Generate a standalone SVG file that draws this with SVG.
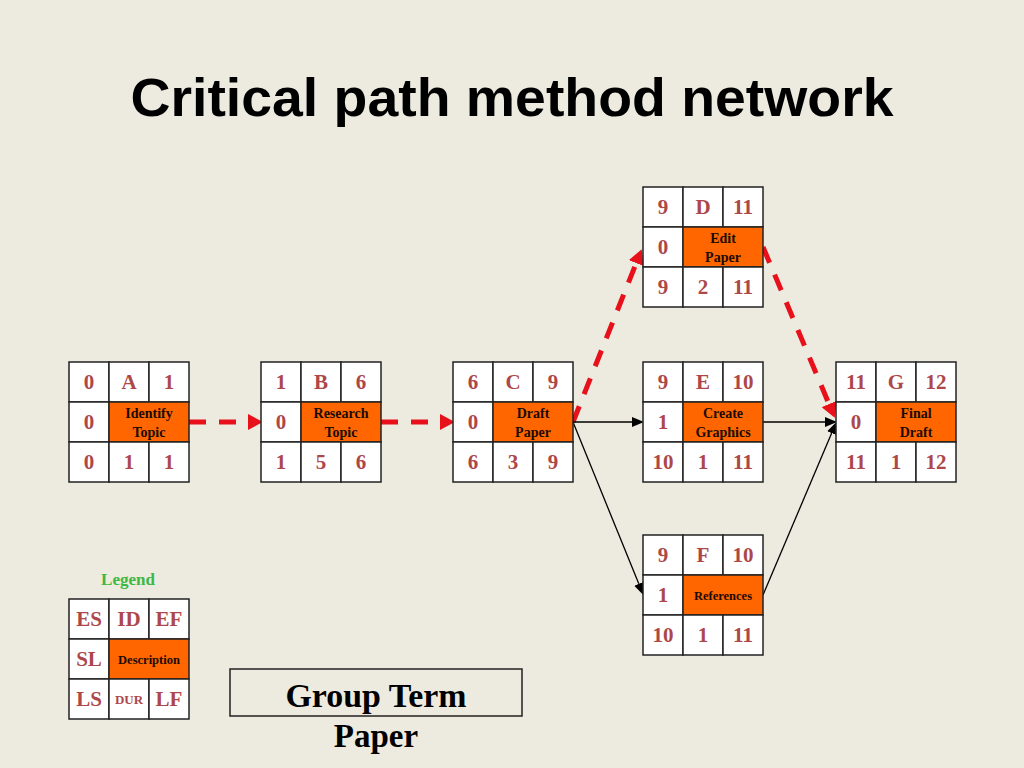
<svg xmlns="http://www.w3.org/2000/svg" width="1024" height="768" viewBox="0 0 1024 768">
<style>
.c{fill:#ffffff;stroke:#222222;stroke-width:1.5}
.o{fill:#ff6600;stroke:#222222;stroke-width:1.5}
.n{font-family:"Liberation Serif",serif;font-weight:bold;font-size:21px;fill:#ad474a;text-anchor:middle}
.d{font-family:"Liberation Serif",serif;font-weight:bold;font-size:14px;fill:#1a0a00;text-anchor:middle}
.s{font-size:12.5px}
.u{font-size:13px}
.red{stroke:#e8101a;stroke-width:5;stroke-dasharray:17 13;fill:none}
.blk{stroke:#000000;stroke-width:1.3;fill:none}
</style>
<defs>
<marker id="ra" markerUnits="userSpaceOnUse" markerWidth="16" markerHeight="16" refX="0" refY="7" orient="auto" viewBox="0 0 14 14">
<path d="M0,0 L13,7 L0,14 z" fill="#e8101a"/>
</marker>
<marker id="ba" markerUnits="userSpaceOnUse" markerWidth="12" markerHeight="10" refX="0" refY="4.5" orient="auto" viewBox="0 0 11 9">
<path d="M0,0 L11,4.5 L0,9 z" fill="#000000"/>
</marker>
</defs>
<rect x="0" y="0" width="1024" height="768" fill="#edeae0"/>
<text x="512" y="116" font-family="Liberation Sans,sans-serif" font-weight="bold" font-size="54" text-anchor="middle" textLength="763" lengthAdjust="spacingAndGlyphs" fill="#000000">Critical path method network</text>

<g id="connectors">
<line class="red" x1="189" y1="422" x2="248" y2="422" marker-end="url(#ra)"/>
<line class="red" x1="381" y1="422" x2="440" y2="422" marker-end="url(#ra)"/>
<line class="red" x1="573" y1="422" x2="636.2" y2="263.1" marker-end="url(#ra)"/>
<line class="red" x1="763" y1="247" x2="829" y2="404" marker-end="url(#ra)"/>
<line class="blk" x1="573" y1="422" x2="632" y2="422" marker-end="url(#ba)"/>
<line class="blk" x1="573" y1="422" x2="638.8" y2="583.8" marker-end="url(#ba)"/>
<line class="blk" x1="763" y1="422" x2="825" y2="422" marker-end="url(#ba)"/>
<line class="blk" x1="763" y1="595" x2="831.7" y2="433.1" marker-end="url(#ba)"/>
</g>

<g id="nodeA" transform="translate(69,362)">
<rect class="c" x="0" y="0" width="40" height="40"/><rect class="c" x="40" y="0" width="40" height="40"/><rect class="c" x="80" y="0" width="40" height="40"/>
<rect class="c" x="0" y="40" width="40" height="40"/><rect class="o" x="40" y="40" width="80" height="40"/>
<rect class="c" x="0" y="80" width="40" height="40"/><rect class="c" x="40" y="80" width="40" height="40"/><rect class="c" x="80" y="80" width="40" height="40"/>
<text class="n" x="20" y="27">0</text><text class="n" x="60" y="27">A</text><text class="n" x="100" y="27">1</text>
<text class="n" x="20" y="67">0</text>
<text class="d" x="80" y="56">Identify</text><text class="d" x="80" y="75">Topic</text>
<text class="n" x="20" y="107">0</text><text class="n" x="60" y="107">1</text><text class="n" x="100" y="107">1</text>
</g>

<g id="nodeB" transform="translate(261,362)">
<rect class="c" x="0" y="0" width="40" height="40"/><rect class="c" x="40" y="0" width="40" height="40"/><rect class="c" x="80" y="0" width="40" height="40"/>
<rect class="c" x="0" y="40" width="40" height="40"/><rect class="o" x="40" y="40" width="80" height="40"/>
<rect class="c" x="0" y="80" width="40" height="40"/><rect class="c" x="40" y="80" width="40" height="40"/><rect class="c" x="80" y="80" width="40" height="40"/>
<text class="n" x="20" y="27">1</text><text class="n" x="60" y="27">B</text><text class="n" x="100" y="27">6</text>
<text class="n" x="20" y="67">0</text>
<text class="d" x="80" y="56">Research</text><text class="d" x="80" y="75">Topic</text>
<text class="n" x="20" y="107">1</text><text class="n" x="60" y="107">5</text><text class="n" x="100" y="107">6</text>
</g>

<g id="nodeC" transform="translate(453,362)">
<rect class="c" x="0" y="0" width="40" height="40"/><rect class="c" x="40" y="0" width="40" height="40"/><rect class="c" x="80" y="0" width="40" height="40"/>
<rect class="c" x="0" y="40" width="40" height="40"/><rect class="o" x="40" y="40" width="80" height="40"/>
<rect class="c" x="0" y="80" width="40" height="40"/><rect class="c" x="40" y="80" width="40" height="40"/><rect class="c" x="80" y="80" width="40" height="40"/>
<text class="n" x="20" y="27">6</text><text class="n" x="60" y="27">C</text><text class="n" x="100" y="27">9</text>
<text class="n" x="20" y="67">0</text>
<text class="d" x="80" y="56">Draft</text><text class="d" x="80" y="75">Paper</text>
<text class="n" x="20" y="107">6</text><text class="n" x="60" y="107">3</text><text class="n" x="100" y="107">9</text>
</g>

<g id="nodeD" transform="translate(643,187)">
<rect class="c" x="0" y="0" width="40" height="40"/><rect class="c" x="40" y="0" width="40" height="40"/><rect class="c" x="80" y="0" width="40" height="40"/>
<rect class="c" x="0" y="40" width="40" height="40"/><rect class="o" x="40" y="40" width="80" height="40"/>
<rect class="c" x="0" y="80" width="40" height="40"/><rect class="c" x="40" y="80" width="40" height="40"/><rect class="c" x="80" y="80" width="40" height="40"/>
<text class="n" x="20" y="27">9</text><text class="n" x="60" y="27">D</text><text class="n" x="100" y="27">11</text>
<text class="n" x="20" y="67">0</text>
<text class="d" x="80" y="56">Edit</text><text class="d" x="80" y="75">Paper</text>
<text class="n" x="20" y="107">9</text><text class="n" x="60" y="107">2</text><text class="n" x="100" y="107">11</text>
</g>

<g id="nodeE" transform="translate(643,362)">
<rect class="c" x="0" y="0" width="40" height="40"/><rect class="c" x="40" y="0" width="40" height="40"/><rect class="c" x="80" y="0" width="40" height="40"/>
<rect class="c" x="0" y="40" width="40" height="40"/><rect class="o" x="40" y="40" width="80" height="40"/>
<rect class="c" x="0" y="80" width="40" height="40"/><rect class="c" x="40" y="80" width="40" height="40"/><rect class="c" x="80" y="80" width="40" height="40"/>
<text class="n" x="20" y="27">9</text><text class="n" x="60" y="27">E</text><text class="n" x="100" y="27">10</text>
<text class="n" x="20" y="67">1</text>
<text class="d" x="80" y="56">Create</text><text class="d" x="80" y="75">Graphics</text>
<text class="n" x="20" y="107">10</text><text class="n" x="60" y="107">1</text><text class="n" x="100" y="107">11</text>
</g>

<g id="nodeF" transform="translate(643,535)">
<rect class="c" x="0" y="0" width="40" height="40"/><rect class="c" x="40" y="0" width="40" height="40"/><rect class="c" x="80" y="0" width="40" height="40"/>
<rect class="c" x="0" y="40" width="40" height="40"/><rect class="o" x="40" y="40" width="80" height="40"/>
<rect class="c" x="0" y="80" width="40" height="40"/><rect class="c" x="40" y="80" width="40" height="40"/><rect class="c" x="80" y="80" width="40" height="40"/>
<text class="n" x="20" y="27">9</text><text class="n" x="60" y="27">F</text><text class="n" x="100" y="27">10</text>
<text class="n" x="20" y="67">1</text>
<text class="d s" x="80" y="65">References</text>
<text class="n" x="20" y="107">10</text><text class="n" x="60" y="107">1</text><text class="n" x="100" y="107">11</text>
</g>

<g id="nodeG" transform="translate(836,362)">
<rect class="c" x="0" y="0" width="40" height="40"/><rect class="c" x="40" y="0" width="40" height="40"/><rect class="c" x="80" y="0" width="40" height="40"/>
<rect class="c" x="0" y="40" width="40" height="40"/><rect class="o" x="40" y="40" width="80" height="40"/>
<rect class="c" x="0" y="80" width="40" height="40"/><rect class="c" x="40" y="80" width="40" height="40"/><rect class="c" x="80" y="80" width="40" height="40"/>
<text class="n" x="20" y="27">11</text><text class="n" x="60" y="27">G</text><text class="n" x="100" y="27">12</text>
<text class="n" x="20" y="67">0</text>
<text class="d" x="80" y="56">Final</text><text class="d" x="80" y="75">Draft</text>
<text class="n" x="20" y="107">11</text><text class="n" x="60" y="107">1</text><text class="n" x="100" y="107">12</text>
</g>

<g id="legend">
<text x="128" y="585" font-family="Liberation Serif,serif" font-weight="bold" font-size="17" fill="#3cb844" text-anchor="middle">Legend</text>
<g transform="translate(69,599)">
<rect class="c" x="0" y="0" width="40" height="40"/><rect class="c" x="40" y="0" width="40" height="40"/><rect class="c" x="80" y="0" width="40" height="40"/>
<rect class="c" x="0" y="40" width="40" height="40"/><rect class="o" x="40" y="40" width="80" height="40"/>
<rect class="c" x="0" y="80" width="40" height="40"/><rect class="c" x="40" y="80" width="40" height="40"/><rect class="c" x="80" y="80" width="40" height="40"/>
<text class="n" x="20" y="27">ES</text><text class="n" x="60" y="27">ID</text><text class="n" x="100" y="27">EF</text>
<text class="n" x="20" y="67">SL</text>
<text class="d s" x="80" y="65">Description</text>
<text class="n u" x="60" y="105">DUR</text><text class="n" x="20" y="107">LS</text><text class="n" x="100" y="107">LF</text>
</g>
</g>

<g id="title-box">
<rect x="230" y="669" width="292" height="47" fill="none" stroke="#222222" stroke-width="1.5"/>
<text x="376" y="707" font-family="Liberation Serif,serif" font-weight="bold" font-size="33" text-anchor="middle" textLength="181" lengthAdjust="spacingAndGlyphs" fill="#000000">Group Term</text>
<text x="376" y="747" font-family="Liberation Serif,serif" font-weight="bold" font-size="33" text-anchor="middle" fill="#000000">Paper</text>
</g>
</svg>
